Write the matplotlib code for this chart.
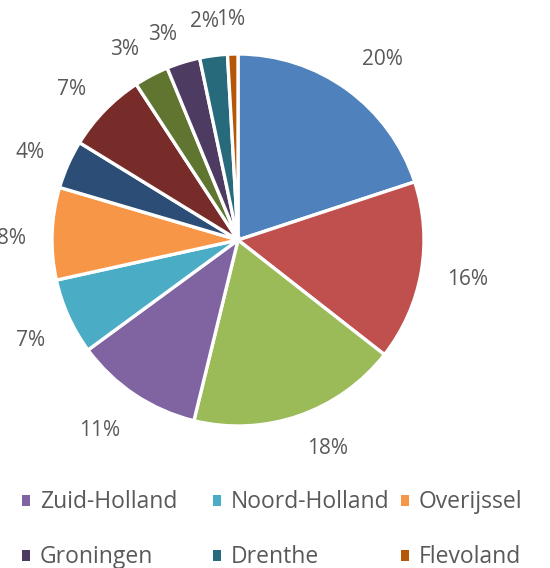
import numpy as np
import matplotlib.pyplot as plt
from matplotlib.patches import Patch

# provinces, clockwise from 12 o'clock
provinces = ["Noord-Brabant", "Gelderland", "Utrecht", "Zuid-Holland",
             "Noord-Holland", "Overijssel", "Limburg", "Friesland",
             "Zeeland", "Groningen", "Drenthe", "Flevoland"]
shares = [19.9, 15.6, 18.2, 11.1, 6.6, 8.0, 4.2, 7.0, 3.0, 2.9, 2.4, 0.9]
colors = ["#4F81BD", "#C0504D", "#9BBB59", "#8064A2", "#4BACC6", "#F79646",
          "#2C4D75", "#772C2A", "#5F7530", "#4D3B62", "#276A7C", "#B65708"]
# only these legend rows are visible in the picture
shown = [["Zuid-Holland", "Noord-Holland", "Overijssel"],
         ["Groningen", "Drenthe", "Flevoland"]]

plt.rcParams['font.family'] = ['Open Sans', 'DejaVu Sans']
txtcolor = '#595959'

fig = plt.figure(figsize=(5.5, 5.68), dpi=100)
cx, cy, r = 238, 240, 186
ax = fig.add_axes([(cx - r) / 550, (568 - cy - r) / 568, 2 * r / 550, 2 * r / 568])

wedges, _ = ax.pie(
    shares, colors=colors, startangle=90, counterclock=False,
    wedgeprops=dict(edgecolor='white', linewidth=2.4))
ax.set_xlim(-1, 1)
ax.set_ylim(-1, 1)

# percentage labels outside the edge, Excel style (box pushed away from the pie)
total = sum(shares)
px = 1 / r  # one pixel in data units
renderer = fig.canvas.get_renderer()
for w, v in zip(wedges, shares):
    th = np.deg2rad((w.theta1 + w.theta2) / 2)
    x, y = 1.14 * np.cos(th), 1.14 * np.sin(th)
    t = ax.text(x, y, '{:.0f}%'.format(100 * v / total), color=txtcolor,
                fontsize=15, ha='center', va='center')
    bb = t.get_window_extent(renderer=renderer)
    wpx, hpx = bb.width / (2 * r), bb.height / (2 * r)
    fx = np.clip(3 * np.cos(th), -1, 1)
    fy = np.clip(2 * np.sin(th), -1, 1)
    dy = -6 * px if np.cos(th) < -0.2 else 0
    t.set_position((x + fx * wpx, y + fy * hpx * 0.8 + dy))

# Excel legend has fixed-width columns -> one small legend per column
col_x = [11, 202, 390]
for j, x0 in enumerate(col_x):
    names = [row[j] for row in shown]
    handles = [Patch(facecolor=colors[provinces.index(n)], edgecolor='none')
               for n in names]
    leg = fig.legend(handles, names, loc='upper left',
                     bbox_to_anchor=(x0 / 550, 1 - 479 / 568), frameon=False,
                     fontsize=16.5, handlelength=0.35, handleheight=0.35,
                     handletextpad=0.4, labelspacing=1.35, borderpad=0)
    for t in leg.get_texts():
        t.set_color(txtcolor)

fig.savefig('out.png', dpi=100)
